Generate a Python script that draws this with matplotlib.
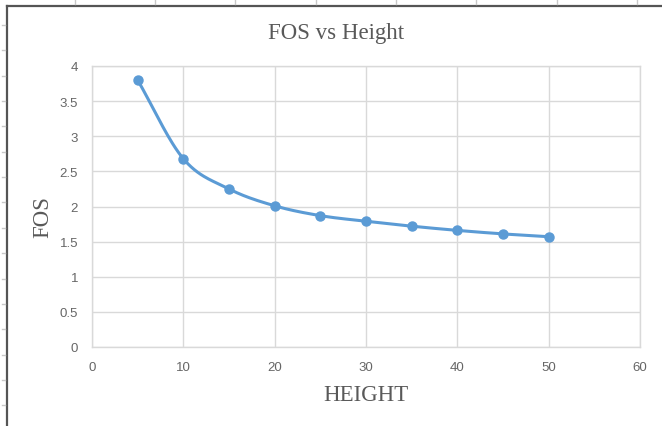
import numpy as np
import matplotlib
matplotlib.use("Agg")
import matplotlib.pyplot as plt
from matplotlib.lines import Line2D

# Factor of safety measured at each height
height = [5, 10, 15, 20, 25, 30, 35, 40, 45, 50]
fos = [3.80, 2.68, 2.25, 2.01, 1.87, 1.79, 1.72, 1.66, 1.61, 1.57]

x_ticks = [0, 10, 20, 30, 40, 50, 60]
y_ticks = [0, 0.5, 1, 1.5, 2, 2.5, 3, 3.5, 4]
y_tick_labels = ["0", "0.5", "1", "1.5", "2", "2.5", "3", "3.5", "4"]

BLUE = "#5B9BD5"
TEXT = "#595959"
GRID = "#D9D9D9"


def smooth_curve(xs, ys, samples=30):
    """Catmull-Rom style smoothing through the points (like a smoothed line chart)."""
    xs = np.asarray(xs, float)
    ys = np.asarray(ys, float)
    px = np.concatenate([[2 * xs[0] - xs[1]], xs, [2 * xs[-1] - xs[-2]]])
    py = np.concatenate([[2 * ys[0] - ys[1]], ys, [2 * ys[-1] - ys[-2]]])
    out_x, out_y = [], []
    t = np.linspace(0, 1, samples)
    k = 1.0 / 6.0
    for i in range(1, len(px) - 2):
        p0 = np.array([px[i], py[i]])
        p3 = np.array([px[i + 1], py[i + 1]])
        c1 = p0 + k * (np.array([px[i + 1], py[i + 1]]) - np.array([px[i - 1], py[i - 1]]))
        c2 = p3 - k * (np.array([px[i + 2], py[i + 2]]) - np.array([px[i], py[i]]))
        b = ((1 - t) ** 3)[:, None] * p0 + (3 * (1 - t) ** 2 * t)[:, None] * c1 \
            + (3 * (1 - t) * t ** 2)[:, None] * c2 + (t ** 3)[:, None] * p3
        out_x.extend(b[:, 0])
        out_y.extend(b[:, 1])
    return np.array(out_x), np.array(out_y)


W, H, DPI = 662, 427, 100
fig = plt.figure(figsize=(W / DPI, H / DPI), dpi=DPI)
fig.patch.set_facecolor("white")

# plot area in pixel terms: x 92..640, y 67..348 (from top)
left, right = 92 / W, 640 / W
bottom, top = 1 - 348 / H, 1 - 67 / H
ax = fig.add_axes([left, bottom, right - left, top - bottom])

sx, sy = smooth_curve(height, fos)
ax.plot(sx, sy, color=BLUE, lw=2.2, solid_capstyle="round", zorder=3)
ax.plot(height, fos, "o", color=BLUE, ms=6.5, mec=BLUE, zorder=4)

ax.set_xlim(0, 60)
ax.set_ylim(0, 4)
ax.set_xticks(x_ticks)
ax.set_yticks(y_ticks)
ax.set_yticklabels(y_tick_labels)
ax.grid(True, color=GRID, lw=1.0)
ax.set_axisbelow(True)
for s in ax.spines.values():
    s.set_color(GRID)
    s.set_linewidth(1.0)
ax.tick_params(length=0, colors="#666666", labelsize=9.5, pad=10)
for lab in ax.get_xticklabels() + ax.get_yticklabels():
    lab.set_family(["Liberation Sans", "DejaVu Sans"])

serif = ["Liberation Serif", "DejaVu Serif"]
fig.text(336 / W, 1 - 34 / H, "FOS vs Height", ha="center", va="center",
         fontsize=16.5, color=TEXT, family=serif)
fig.text(366 / W, 1 - 396 / H, "HEIGHT", ha="center", va="center",
         fontsize=16.5, color=TEXT, family=serif)
fig.text(43 / W, 1 - 217 / H, "FOS", ha="center", va="center", rotation=90,
         fontsize=16.5, color=TEXT, family=serif)

# sheet frame around the chart object (left and top edges)
fig.add_artist(Line2D([6.5 / W, 6.5 / W], [0, 1 - 6.5 / H], transform=fig.transFigure,
                      color="#555555", lw=1.6))
fig.add_artist(Line2D([6.5 / W, 1], [1 - 6.5 / H, 1 - 6.5 / H], transform=fig.transFigure,
                      color="#555555", lw=1.6))
# faint cell-boundary ticks outside the frame
for xp in [75, 155, 235, 316, 396, 476, 557, 637]:
    fig.add_artist(Line2D([xp / W, xp / W], [1 - 1 / H, 1 - 5 / H], transform=fig.transFigure,
                          color="#C8C8C8", lw=1))
for yp in np.arange(26, 427, 25.35):
    fig.add_artist(Line2D([2 / W, 5 / W], [1 - yp / H, 1 - yp / H], transform=fig.transFigure,
                          color="#C8C8C8", lw=1))

fig.savefig("out.png", dpi=DPI)
